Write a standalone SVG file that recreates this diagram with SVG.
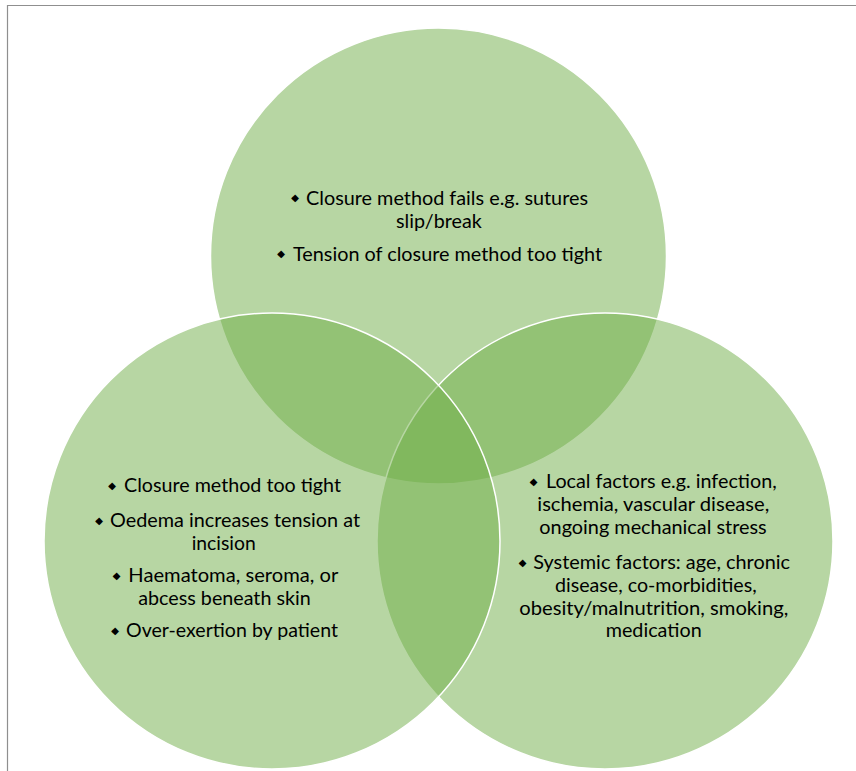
<svg xmlns="http://www.w3.org/2000/svg" width="856" height="771" viewBox="0 0 856 771">
<style>
.set{fill:#70AD47;fill-opacity:0.5;stroke:#ffffff;stroke-width:1.5}
.t{font-family:Lato,"Liberation Sans",sans-serif;font-size:20px;fill:#000000}
.b{font-family:"DejaVu Sans",sans-serif;font-size:10px;fill:#000000;text-anchor:middle}
.frame{stroke:#8f8f8f;stroke-width:1.2;fill:none}
</style>
<rect width="856" height="771" fill="#ffffff"/>
<path class="frame" d="M7.5 771 V5.5 H856"/>
<g id="set-top">
<circle class="set" cx="438.5" cy="256" r="228"/>
<text class="b" x="295" y="201">◆</text>
<text class="t" x="306" y="205" textLength="282" lengthAdjust="spacingAndGlyphs">Closure method fails e.g. sutures</text>
<text class="t" x="396" y="228" textLength="85.7" lengthAdjust="spacingAndGlyphs">slip/break</text>
<text class="b" x="281" y="256.5">◆</text>
<text class="t" x="293" y="261" textLength="309" lengthAdjust="spacingAndGlyphs">Tension of closure method too tight</text>
</g>
<g id="set-right">
<circle class="set" cx="605" cy="541" r="228"/>
<text class="b" x="533.7" y="485">◆</text>
<text class="t" x="546" y="488.3" textLength="230.7" lengthAdjust="spacingAndGlyphs">Local factors e.g. infection,</text>
<text class="t" x="537.3" y="511.3" textLength="232" lengthAdjust="spacingAndGlyphs">ischemia, vascular disease,</text>
<text class="t" x="539.3" y="534.3" textLength="227.4" lengthAdjust="spacingAndGlyphs">ongoing mechanical stress</text>
<text class="b" x="522.7" y="565.8">◆</text>
<text class="t" x="533.3" y="569" textLength="256.7" lengthAdjust="spacingAndGlyphs">Systemic factors: age, chronic</text>
<text class="t" x="555" y="592" textLength="201.7" lengthAdjust="spacingAndGlyphs">disease, co-morbidities,</text>
<text class="t" x="519.3" y="615" textLength="269" lengthAdjust="spacingAndGlyphs">obesity/malnutrition, smoking,</text>
<text class="t" x="605.7" y="637" textLength="96" lengthAdjust="spacingAndGlyphs">medication</text>
</g>
<g id="set-left">
<circle class="set" cx="272" cy="541" r="228"/>
<text class="b" x="112" y="488.5">◆</text>
<text class="t" x="124" y="491.7" textLength="217" lengthAdjust="spacingAndGlyphs">Closure method too tight</text>
<text class="b" x="99" y="523.8">◆</text>
<text class="t" x="110" y="527" textLength="250" lengthAdjust="spacingAndGlyphs">Oedema increases tension at</text>
<text class="t" x="191.7" y="550" textLength="64" lengthAdjust="spacingAndGlyphs">incision</text>
<text class="b" x="116.5" y="578.5">◆</text>
<text class="t" x="128.3" y="581.7" textLength="210" lengthAdjust="spacingAndGlyphs">Haematoma, seroma, or</text>
<text class="t" x="138.3" y="604.7" textLength="172.4" lengthAdjust="spacingAndGlyphs">abcess beneath skin</text>
<text class="b" x="115" y="633.5">◆</text>
<text class="t" x="126" y="636.7" textLength="212" lengthAdjust="spacingAndGlyphs">Over-exertion by patient</text>
</g>
</svg>
